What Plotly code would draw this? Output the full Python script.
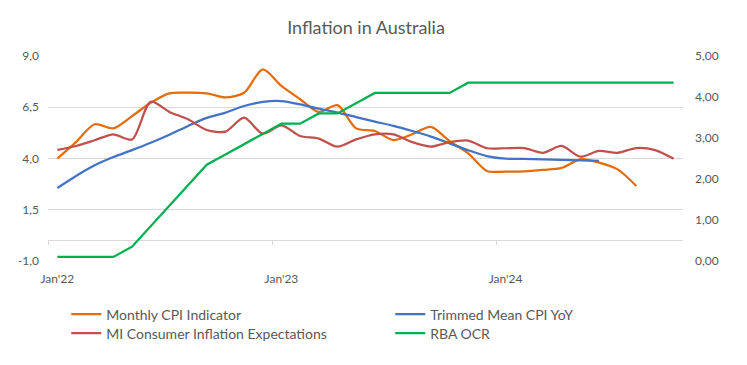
import plotly.graph_objects as go

months = list(range(34))  # Jan'22 .. Oct'24, monthly categories
tick_positions = [0, 12, 24]
tick_labels = ["Jan'22", "Jan'23", "Jan'24"]

monthly_cpi = [4.0, 4.8, 5.67, 5.47, 6.07, 6.72, 7.18, 7.21, 7.18, 6.98, 7.21, 8.35,
               7.54, 6.89, 6.27, 6.6, 5.47, 5.34, 4.9, 5.18, 5.54, 4.85, 4.25, 3.39,
               3.36, 3.37, 3.44, 3.54, 3.96, 3.8, 3.47, 2.66]

trimmed_mean = [2.56, 3.15, 3.67, 4.07, 4.41, 4.77, 5.16, 5.59, 5.98, 6.24, 6.56, 6.76,
                6.8, 6.64, 6.43, 6.24, 6.02, 5.8, 5.59, 5.34, 5.07, 4.74, 4.4, 4.12,
                3.99, 3.98, 3.96, 3.93, 3.91, 3.88]

mi_expectations = [4.42, 4.61, 4.89, 5.18, 4.93, 6.77, 6.27, 5.91, 5.39, 5.31, 5.99, 5.21,
                   5.62, 5.1, 4.97, 4.58, 4.93, 5.18, 5.18, 4.8, 4.58, 4.8, 4.87, 4.5,
                   4.5, 4.51, 4.28, 4.61, 4.09, 4.37, 4.28, 4.51, 4.41, 3.99]

rba_ocr = [0.10, 0.10, 0.10, 0.10, 0.35, 0.85, 1.35, 1.85, 2.35, 2.60, 2.85, 3.10,
           3.35, 3.35, 3.60, 3.60, 3.85, 4.10, 4.10, 4.10, 4.10, 4.10, 4.35, 4.35,
           4.35, 4.35, 4.35, 4.35, 4.35, 4.35, 4.35, 4.35, 4.35, 4.35]

left_ticks = [-1.0, 1.5, 4.0, 6.5, 9.0]
left_tick_labels = ["-1,0", "1,5", "4,0", "6,5", "9,0"]
right_ticks = [0, 1, 2, 3, 4, 5]
right_tick_labels = ["0,00", "1,00", "2,00", "3,00", "4,00", "5,00"]

FONT = "Lato"
GRAY = "#595959"
GRID = "#D9D9D9"

fig = go.Figure()
fig.add_trace(go.Scatter(x=months[:len(monthly_cpi)], y=monthly_cpi, name="Monthly CPI Indicator",
                         mode="lines", line=dict(color="#E46C0A", width=2.25, shape="spline", smoothing=0.8),
                         legend="legend", yaxis="y"))
fig.add_trace(go.Scatter(x=months[:len(trimmed_mean)], y=trimmed_mean, name="Trimmed Mean CPI YoY",
                         mode="lines", line=dict(color="#4472C4", width=2.25, shape="spline", smoothing=0.8),
                         legend="legend2", yaxis="y"))
fig.add_trace(go.Scatter(x=months[:len(mi_expectations)], y=mi_expectations, name="MI Consumer Inflation Expectations",
                         mode="lines", line=dict(color="#C0504D", width=2.25, shape="spline", smoothing=0.8),
                         legend="legend3", yaxis="y"))
fig.add_trace(go.Scatter(x=months[:len(rba_ocr)], y=rba_ocr, name="RBA OCR",
                         mode="lines", line=dict(color="#00B050", width=2.25),
                         legend="legend4", yaxis="y2"))
# dummy trace so the tick marks on the category axis line (at y = 0) are drawn
fig.add_trace(go.Scatter(x=[None], y=[None], xaxis="x2", yaxis="y", showlegend=False, hoverinfo="skip"))

legend_common = dict(orientation="v", font=dict(family=FONT, size=14, color=GRAY),
                     bgcolor="rgba(0,0,0,0)", yanchor="top", xanchor="left",
                     itemclick=False, itemdoubleclick=False)

row1_y = -0.183
row2_y = -0.276
col1_x = 0.0288
col2_x = 0.539

fig.update_layout(
    width=747, height=365,
    margin=dict(l=48, r=64, t=56, b=104, autoexpand=False),
    paper_bgcolor="white", plot_bgcolor="white",
    separators=",.",
    font=dict(family=FONT, color=GRAY, size=12),
    title=dict(text="Inflation in Australia", x=0.49, xref="container", y=0.923, yref="container",
               xanchor="center", yanchor="middle", font=dict(family=FONT, size=18, color=GRAY)),
    xaxis=dict(range=[-0.5, 33.5], tickvals=tick_positions, ticktext=tick_labels,
               showgrid=False, showline=False, zeroline=False, ticks="", ticklabelstandoff=9,
               tickfont=dict(family=FONT, size=12, color=GRAY)),
    xaxis2=dict(range=[-0.5, 33.5], overlaying="x", anchor="free", position=21 / 205,
                tickvals=[-0.5, 11.5, 23.5], ticks="outside", ticklen=4, tickcolor=GRID,
                showticklabels=False, showgrid=False, showline=False, zeroline=False),
    yaxis=dict(range=[-1, 9], tickvals=left_ticks, ticktext=left_tick_labels,
               showgrid=True, gridcolor=GRID, gridwidth=1,
               zeroline=True, zerolinecolor=GRID, zerolinewidth=1,
               showline=False, ticks="", ticklabelstandoff=8,
               tickfont=dict(family=FONT, size=12, color=GRAY)),
    yaxis2=dict(range=[0, 5], tickvals=right_ticks, ticktext=right_tick_labels,
                overlaying="y", side="right",
                showgrid=False, zeroline=False, showline=False, ticks="", ticklabelstandoff=11,
                tickfont=dict(family=FONT, size=12, color=GRAY)),
    legend=dict(x=col1_x, y=row1_y, **legend_common),
    legend2=dict(x=col2_x, y=row1_y, **legend_common),
    legend3=dict(x=col1_x, y=row2_y, **legend_common),
    legend4=dict(x=col2_x, y=row2_y, **legend_common),
)

fig.write_html("out.html", config={"displayModeBar": False, "staticPlot": True},
               post_script="document.body.style.margin='0';document.body.style.overflow='hidden';")
